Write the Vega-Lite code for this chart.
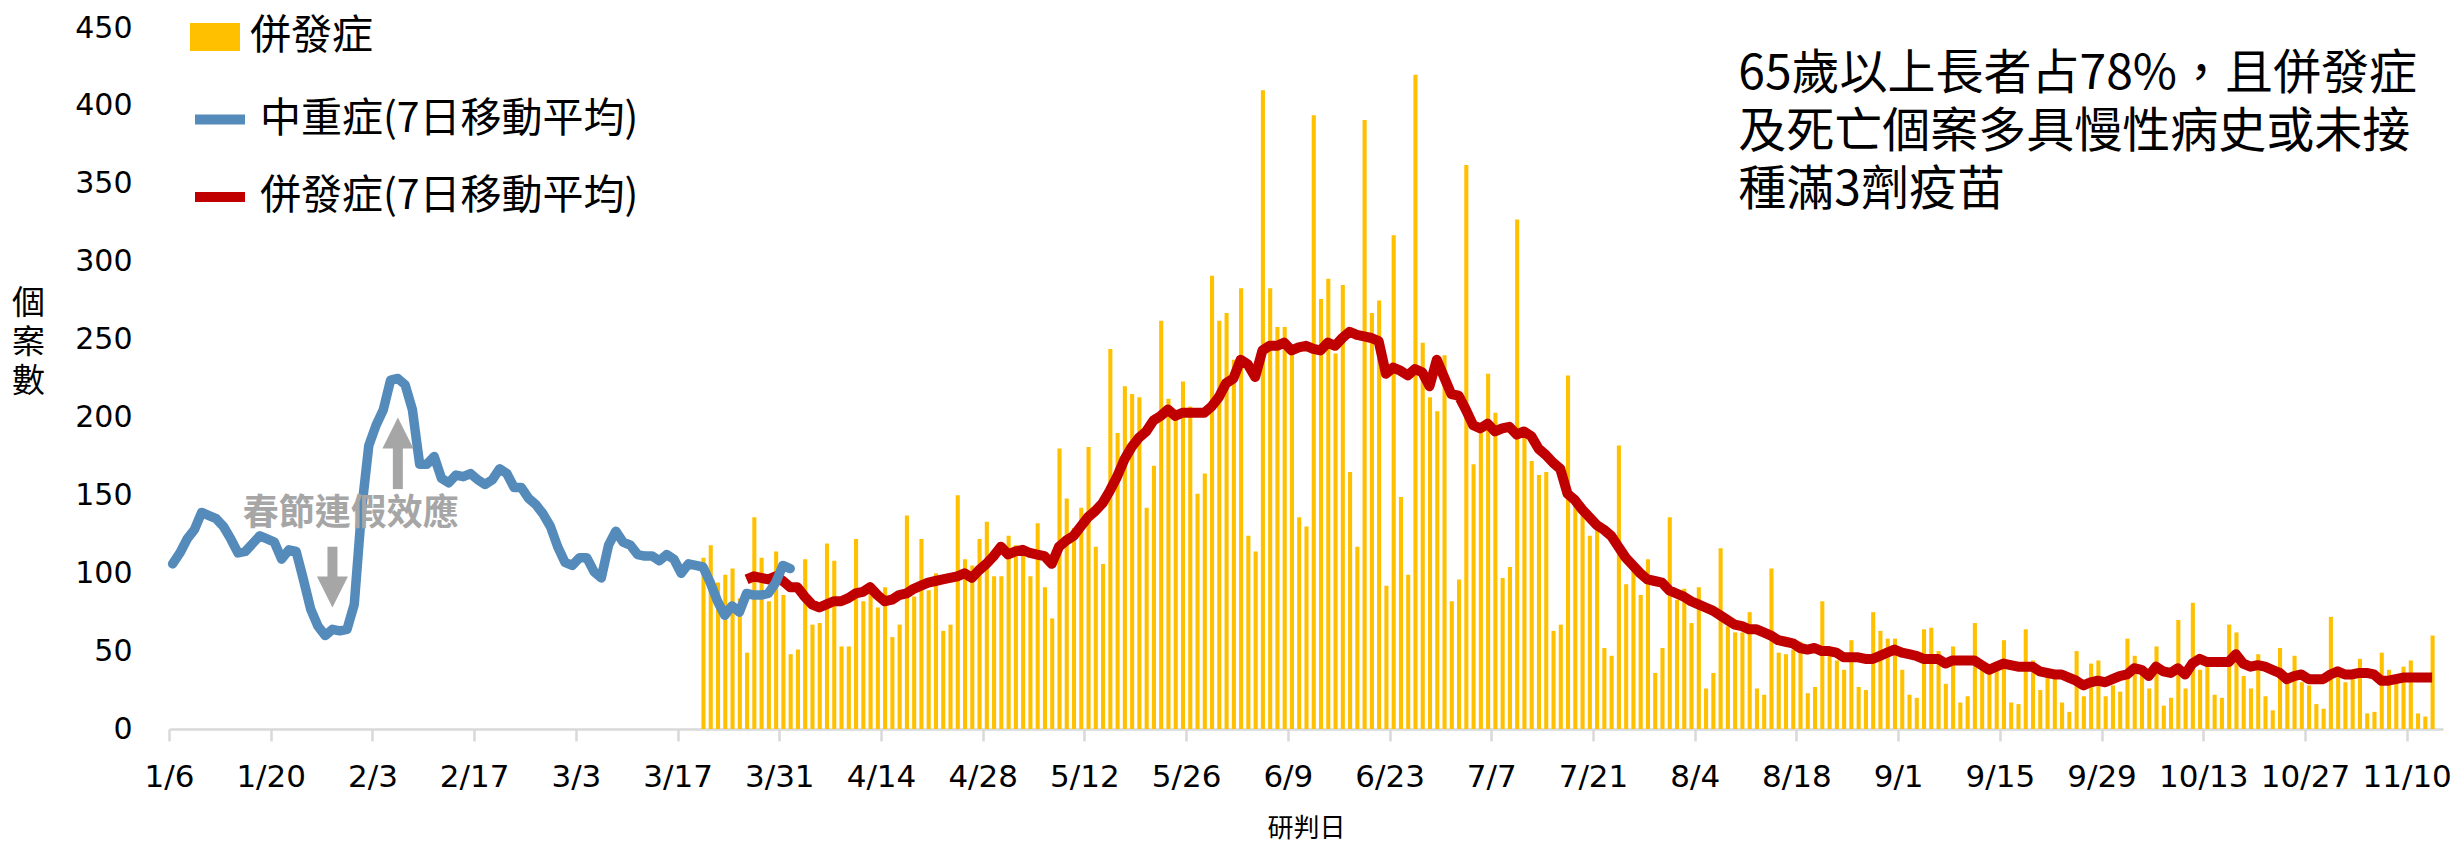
{
"$schema": "https://vega.github.io/schema/vega-lite/v6.json",
"width": 2274, "height": 701,
"autosize": {"type": "none"},
"padding": {"left": 169, "top": 28, "right": 20, "bottom": 117},
"background": "white",
"config": {"view": {"stroke": null}},
"datasets": {
"bars": [
{"d":"2023-03-20","v":110},{"d":"2023-03-21","v":118},{"d":"2023-03-22","v":94},{"d":"2023-03-23","v":99},{"d":"2023-03-24","v":103},{"d":"2023-03-25","v":84},{"d":"2023-03-26","v":49},{"d":"2023-03-27","v":136},{"d":"2023-03-28","v":110},{"d":"2023-03-29","v":82},{"d":"2023-03-30","v":114},{"d":"2023-03-31","v":86},
{"d":"2023-04-01","v":48},{"d":"2023-04-02","v":51},{"d":"2023-04-03","v":109},{"d":"2023-04-04","v":67},{"d":"2023-04-05","v":68},{"d":"2023-04-06","v":119},{"d":"2023-04-07","v":108},{"d":"2023-04-08","v":53},{"d":"2023-04-09","v":53},{"d":"2023-04-10","v":122},{"d":"2023-04-11","v":82},{"d":"2023-04-12","v":93},{"d":"2023-04-13","v":78},{"d":"2023-04-14","v":91},{"d":"2023-04-15","v":59},{"d":"2023-04-16","v":67},{"d":"2023-04-17","v":137},{"d":"2023-04-18","v":85},{"d":"2023-04-19","v":122},{"d":"2023-04-20","v":89},{"d":"2023-04-21","v":100},{"d":"2023-04-22","v":63},{"d":"2023-04-23","v":67},{"d":"2023-04-24","v":150},{"d":"2023-04-25","v":109},{"d":"2023-04-26","v":105},{"d":"2023-04-27","v":122},{"d":"2023-04-28","v":133},{"d":"2023-04-29","v":98},{"d":"2023-04-30","v":98},
{"d":"2023-05-01","v":124},{"d":"2023-05-02","v":118},{"d":"2023-05-03","v":117},{"d":"2023-05-04","v":98},{"d":"2023-05-05","v":132},{"d":"2023-05-06","v":91},{"d":"2023-05-07","v":71},{"d":"2023-05-08","v":180},{"d":"2023-05-09","v":148},{"d":"2023-05-10","v":129},{"d":"2023-05-11","v":142},{"d":"2023-05-12","v":181},{"d":"2023-05-13","v":117},{"d":"2023-05-14","v":106},{"d":"2023-05-15","v":244},{"d":"2023-05-16","v":190},{"d":"2023-05-17","v":220},{"d":"2023-05-18","v":215},{"d":"2023-05-19","v":213},{"d":"2023-05-20","v":142},{"d":"2023-05-21","v":169},{"d":"2023-05-22","v":262},{"d":"2023-05-23","v":212},{"d":"2023-05-24","v":200},{"d":"2023-05-25","v":223},{"d":"2023-05-26","v":207},{"d":"2023-05-27","v":151},{"d":"2023-05-28","v":164},{"d":"2023-05-29","v":291},{"d":"2023-05-30","v":262},{"d":"2023-05-31","v":267},
{"d":"2023-06-01","v":237},{"d":"2023-06-02","v":283},{"d":"2023-06-03","v":124},{"d":"2023-06-04","v":114},{"d":"2023-06-05","v":410},{"d":"2023-06-06","v":283},{"d":"2023-06-07","v":258},{"d":"2023-06-08","v":258},{"d":"2023-06-09","v":245},{"d":"2023-06-10","v":136},{"d":"2023-06-11","v":130},{"d":"2023-06-12","v":394},{"d":"2023-06-13","v":276},{"d":"2023-06-14","v":289},{"d":"2023-06-15","v":241},{"d":"2023-06-16","v":285},{"d":"2023-06-17","v":165},{"d":"2023-06-18","v":117},{"d":"2023-06-19","v":391},{"d":"2023-06-20","v":267},{"d":"2023-06-21","v":275},{"d":"2023-06-22","v":92},{"d":"2023-06-23","v":317},{"d":"2023-06-24","v":149},{"d":"2023-06-25","v":99},{"d":"2023-06-26","v":420},{"d":"2023-06-27","v":248},{"d":"2023-06-28","v":213},{"d":"2023-06-29","v":204},{"d":"2023-06-30","v":240},
{"d":"2023-07-01","v":82},{"d":"2023-07-02","v":96},{"d":"2023-07-03","v":362},{"d":"2023-07-04","v":170},{"d":"2023-07-05","v":190},{"d":"2023-07-06","v":228},{"d":"2023-07-07","v":203},{"d":"2023-07-08","v":97},{"d":"2023-07-09","v":104},{"d":"2023-07-10","v":327},{"d":"2023-07-11","v":190},{"d":"2023-07-12","v":172},{"d":"2023-07-13","v":163},{"d":"2023-07-14","v":165},{"d":"2023-07-15","v":63},{"d":"2023-07-16","v":67},{"d":"2023-07-17","v":227},{"d":"2023-07-18","v":150},{"d":"2023-07-19","v":138},{"d":"2023-07-20","v":124},{"d":"2023-07-21","v":128},{"d":"2023-07-22","v":52},{"d":"2023-07-23","v":47},{"d":"2023-07-24","v":182},{"d":"2023-07-25","v":93},{"d":"2023-07-26","v":103},{"d":"2023-07-27","v":86},{"d":"2023-07-28","v":109},{"d":"2023-07-29","v":36},{"d":"2023-07-30","v":52},{"d":"2023-07-31","v":136},
{"d":"2023-08-01","v":83},{"d":"2023-08-02","v":90},{"d":"2023-08-03","v":68},{"d":"2023-08-04","v":91},{"d":"2023-08-05","v":26},{"d":"2023-08-06","v":36},{"d":"2023-08-07","v":116},{"d":"2023-08-08","v":66},{"d":"2023-08-09","v":62},{"d":"2023-08-10","v":62},{"d":"2023-08-11","v":75},{"d":"2023-08-12","v":26},{"d":"2023-08-13","v":22},{"d":"2023-08-14","v":103},{"d":"2023-08-15","v":49},{"d":"2023-08-16","v":48},{"d":"2023-08-17","v":51},{"d":"2023-08-18","v":56},{"d":"2023-08-19","v":23},{"d":"2023-08-20","v":27},{"d":"2023-08-21","v":82},{"d":"2023-08-22","v":47},{"d":"2023-08-23","v":44},{"d":"2023-08-24","v":38},{"d":"2023-08-25","v":57},{"d":"2023-08-26","v":27},{"d":"2023-08-27","v":25},{"d":"2023-08-28","v":75},{"d":"2023-08-29","v":63},{"d":"2023-08-30","v":58},{"d":"2023-08-31","v":58},
{"d":"2023-09-01","v":38},{"d":"2023-09-02","v":22},{"d":"2023-09-03","v":20},{"d":"2023-09-04","v":64},{"d":"2023-09-05","v":65},{"d":"2023-09-06","v":50},{"d":"2023-09-07","v":29},{"d":"2023-09-08","v":53},{"d":"2023-09-09","v":17},{"d":"2023-09-10","v":21},{"d":"2023-09-11","v":68},{"d":"2023-09-12","v":40},{"d":"2023-09-13","v":37},{"d":"2023-09-14","v":38},{"d":"2023-09-15","v":57},{"d":"2023-09-16","v":17},{"d":"2023-09-17","v":16},{"d":"2023-09-18","v":64},{"d":"2023-09-19","v":44},{"d":"2023-09-20","v":25},{"d":"2023-09-21","v":35},{"d":"2023-09-22","v":33},{"d":"2023-09-23","v":17},{"d":"2023-09-24","v":11},{"d":"2023-09-25","v":50},{"d":"2023-09-26","v":21},{"d":"2023-09-27","v":42},{"d":"2023-09-28","v":44},{"d":"2023-09-29","v":21},{"d":"2023-09-30","v":28},
{"d":"2023-10-01","v":24},{"d":"2023-10-02","v":58},{"d":"2023-10-03","v":47},{"d":"2023-10-04","v":35},{"d":"2023-10-05","v":26},{"d":"2023-10-06","v":53},{"d":"2023-10-07","v":15},{"d":"2023-10-08","v":20},{"d":"2023-10-09","v":70},{"d":"2023-10-10","v":26},{"d":"2023-10-11","v":81},{"d":"2023-10-12","v":38},{"d":"2023-10-13","v":41},{"d":"2023-10-14","v":22},{"d":"2023-10-15","v":20},{"d":"2023-10-16","v":67},{"d":"2023-10-17","v":62},{"d":"2023-10-18","v":34},{"d":"2023-10-19","v":26},{"d":"2023-10-20","v":48},{"d":"2023-10-21","v":21},{"d":"2023-10-22","v":12},{"d":"2023-10-23","v":52},{"d":"2023-10-24","v":33},{"d":"2023-10-25","v":47},{"d":"2023-10-26","v":30},{"d":"2023-10-27","v":28},{"d":"2023-10-28","v":16},{"d":"2023-10-29","v":13},{"d":"2023-10-30","v":72},{"d":"2023-10-31","v":34},
{"d":"2023-11-01","v":30},{"d":"2023-11-02","v":32},{"d":"2023-11-03","v":45},{"d":"2023-11-04","v":10},{"d":"2023-11-05","v":11},{"d":"2023-11-06","v":49},{"d":"2023-11-07","v":38},{"d":"2023-11-08","v":30},{"d":"2023-11-09","v":40},{"d":"2023-11-10","v":44},{"d":"2023-11-11","v":10},{"d":"2023-11-12","v":8},{"d":"2023-11-13","v":60}
],
"blue": [
{"d":"2023-01-06","v":106},{"d":"2023-01-07","v":113},{"d":"2023-01-08","v":122},{"d":"2023-01-09","v":128},{"d":"2023-01-10","v":139},{"d":"2023-01-11","v":137},{"d":"2023-01-12","v":135},{"d":"2023-01-13","v":130},{"d":"2023-01-14","v":122},{"d":"2023-01-15","v":113},{"d":"2023-01-16","v":114},{"d":"2023-01-17","v":119},{"d":"2023-01-18","v":124},{"d":"2023-01-19","v":122},{"d":"2023-01-20","v":120},{"d":"2023-01-21","v":109},{"d":"2023-01-22","v":115},{"d":"2023-01-23","v":114},{"d":"2023-01-24","v":96},{"d":"2023-01-25","v":77},{"d":"2023-01-26","v":66},{"d":"2023-01-27","v":60},{"d":"2023-01-28","v":64},{"d":"2023-01-29","v":63},{"d":"2023-01-30","v":64},{"d":"2023-01-31","v":80},
{"d":"2023-02-01","v":140},{"d":"2023-02-02","v":182},{"d":"2023-02-03","v":195},{"d":"2023-02-04","v":205},{"d":"2023-02-05","v":224},{"d":"2023-02-06","v":225},{"d":"2023-02-07","v":221},{"d":"2023-02-08","v":205},{"d":"2023-02-09","v":170},{"d":"2023-02-10","v":170},{"d":"2023-02-11","v":175},{"d":"2023-02-12","v":161},{"d":"2023-02-13","v":158},{"d":"2023-02-14","v":163},{"d":"2023-02-15","v":162},{"d":"2023-02-16","v":164},{"d":"2023-02-17","v":160},{"d":"2023-02-18","v":157},{"d":"2023-02-19","v":160},{"d":"2023-02-20","v":167},{"d":"2023-02-21","v":164},{"d":"2023-02-22","v":155},{"d":"2023-02-23","v":155},{"d":"2023-02-24","v":148},{"d":"2023-02-25","v":144},{"d":"2023-02-26","v":138},{"d":"2023-02-27","v":130},{"d":"2023-02-28","v":117},
{"d":"2023-03-01","v":107},{"d":"2023-03-02","v":105},{"d":"2023-03-03","v":110},{"d":"2023-03-04","v":110},{"d":"2023-03-05","v":101},{"d":"2023-03-06","v":97},{"d":"2023-03-07","v":118},{"d":"2023-03-08","v":127},{"d":"2023-03-09","v":120},{"d":"2023-03-10","v":118},{"d":"2023-03-11","v":112},{"d":"2023-03-12","v":111},{"d":"2023-03-13","v":111},{"d":"2023-03-14","v":108},{"d":"2023-03-15","v":112},{"d":"2023-03-16","v":109},{"d":"2023-03-17","v":100},{"d":"2023-03-18","v":106},{"d":"2023-03-19","v":105},{"d":"2023-03-20","v":104},{"d":"2023-03-21","v":94},{"d":"2023-03-22","v":82},{"d":"2023-03-23","v":73},{"d":"2023-03-24","v":79},{"d":"2023-03-25","v":75},{"d":"2023-03-26","v":87},{"d":"2023-03-27","v":86},{"d":"2023-03-28","v":86},{"d":"2023-03-29","v":87},{"d":"2023-03-30","v":94},{"d":"2023-03-31","v":105},{"d":"2023-04-01","v":103}
],
"red": [
{"d":"2023-03-26","v":96},{"d":"2023-03-27","v":98},{"d":"2023-03-28","v":97},{"d":"2023-03-29","v":96},{"d":"2023-03-30","v":98},{"d":"2023-03-31","v":95},
{"d":"2023-04-01","v":91},{"d":"2023-04-02","v":91},{"d":"2023-04-03","v":85},{"d":"2023-04-04","v":80},{"d":"2023-04-05","v":78},{"d":"2023-04-06","v":80},{"d":"2023-04-07","v":82},{"d":"2023-04-08","v":82},{"d":"2023-04-09","v":84},{"d":"2023-04-10","v":87},{"d":"2023-04-11","v":88},{"d":"2023-04-12","v":91},{"d":"2023-04-13","v":86},{"d":"2023-04-14","v":82},{"d":"2023-04-15","v":83},{"d":"2023-04-16","v":86},{"d":"2023-04-17","v":87},{"d":"2023-04-18","v":90},{"d":"2023-04-19","v":92},{"d":"2023-04-20","v":94},{"d":"2023-04-21","v":95},{"d":"2023-04-22","v":96},{"d":"2023-04-23","v":97},{"d":"2023-04-24","v":98},{"d":"2023-04-25","v":100},{"d":"2023-04-26","v":97},{"d":"2023-04-27","v":102},{"d":"2023-04-28","v":106},{"d":"2023-04-29","v":111},{"d":"2023-04-30","v":117},
{"d":"2023-05-01","v":112},{"d":"2023-05-02","v":114},{"d":"2023-05-03","v":115},{"d":"2023-05-04","v":113},{"d":"2023-05-05","v":112},{"d":"2023-05-06","v":111},{"d":"2023-05-07","v":106},{"d":"2023-05-08","v":117},{"d":"2023-05-09","v":121},{"d":"2023-05-10","v":124},{"d":"2023-05-11","v":130},{"d":"2023-05-12","v":136},{"d":"2023-05-13","v":140},{"d":"2023-05-14","v":145},{"d":"2023-05-15","v":153},{"d":"2023-05-16","v":162},{"d":"2023-05-17","v":173},{"d":"2023-05-18","v":181},{"d":"2023-05-19","v":187},{"d":"2023-05-20","v":191},{"d":"2023-05-21","v":198},{"d":"2023-05-22","v":201},{"d":"2023-05-23","v":205},{"d":"2023-05-24","v":201},{"d":"2023-05-25","v":203},{"d":"2023-05-26","v":203},{"d":"2023-05-27","v":203},{"d":"2023-05-28","v":203},{"d":"2023-05-29","v":207},{"d":"2023-05-30","v":213},{"d":"2023-05-31","v":222},
{"d":"2023-06-01","v":225},{"d":"2023-06-02","v":237},{"d":"2023-06-03","v":234},{"d":"2023-06-04","v":226},{"d":"2023-06-05","v":243},{"d":"2023-06-06","v":246},{"d":"2023-06-07","v":246},{"d":"2023-06-08","v":248},{"d":"2023-06-09","v":243},{"d":"2023-06-10","v":245},{"d":"2023-06-11","v":246},{"d":"2023-06-12","v":244},{"d":"2023-06-13","v":243},{"d":"2023-06-14","v":248},{"d":"2023-06-15","v":246},{"d":"2023-06-16","v":251},{"d":"2023-06-17","v":255},{"d":"2023-06-18","v":253},{"d":"2023-06-19","v":252},{"d":"2023-06-20","v":251},{"d":"2023-06-21","v":249},{"d":"2023-06-22","v":228},{"d":"2023-06-23","v":232},{"d":"2023-06-24","v":230},{"d":"2023-06-25","v":227},{"d":"2023-06-26","v":231},{"d":"2023-06-27","v":229},{"d":"2023-06-28","v":220},{"d":"2023-06-29","v":237},{"d":"2023-06-30","v":226},
{"d":"2023-07-01","v":215},{"d":"2023-07-02","v":214},{"d":"2023-07-03","v":205},{"d":"2023-07-04","v":195},{"d":"2023-07-05","v":193},{"d":"2023-07-06","v":196},{"d":"2023-07-07","v":191},{"d":"2023-07-08","v":193},{"d":"2023-07-09","v":194},{"d":"2023-07-10","v":189},{"d":"2023-07-11","v":191},{"d":"2023-07-12","v":188},{"d":"2023-07-13","v":180},{"d":"2023-07-14","v":176},{"d":"2023-07-15","v":171},{"d":"2023-07-16","v":167},{"d":"2023-07-17","v":151},{"d":"2023-07-18","v":147},{"d":"2023-07-19","v":141},{"d":"2023-07-20","v":136},{"d":"2023-07-21","v":131},{"d":"2023-07-22","v":128},{"d":"2023-07-23","v":124},{"d":"2023-07-24","v":117},{"d":"2023-07-25","v":110},{"d":"2023-07-26","v":105},{"d":"2023-07-27","v":100},{"d":"2023-07-28","v":96},{"d":"2023-07-29","v":95},{"d":"2023-07-30","v":94},{"d":"2023-07-31","v":89},
{"d":"2023-08-01","v":87},{"d":"2023-08-02","v":85},{"d":"2023-08-03","v":82},{"d":"2023-08-04","v":80},{"d":"2023-08-05","v":78},{"d":"2023-08-06","v":76},{"d":"2023-08-07","v":73},{"d":"2023-08-08","v":70},{"d":"2023-08-09","v":67},{"d":"2023-08-10","v":66},{"d":"2023-08-11","v":64},{"d":"2023-08-12","v":64},{"d":"2023-08-13","v":62},{"d":"2023-08-14","v":60},{"d":"2023-08-15","v":57},{"d":"2023-08-16","v":56},{"d":"2023-08-17","v":55},{"d":"2023-08-18","v":52},{"d":"2023-08-19","v":51},{"d":"2023-08-20","v":52},{"d":"2023-08-21","v":50},{"d":"2023-08-22","v":50},{"d":"2023-08-23","v":49},{"d":"2023-08-24","v":46},{"d":"2023-08-25","v":46},{"d":"2023-08-26","v":46},{"d":"2023-08-27","v":45},{"d":"2023-08-28","v":45},{"d":"2023-08-29","v":47},{"d":"2023-08-30","v":49},{"d":"2023-08-31","v":51},
{"d":"2023-09-01","v":49},{"d":"2023-09-02","v":48},{"d":"2023-09-03","v":47},{"d":"2023-09-04","v":45},{"d":"2023-09-05","v":45},{"d":"2023-09-06","v":45},{"d":"2023-09-07","v":42},{"d":"2023-09-08","v":44},{"d":"2023-09-09","v":44},{"d":"2023-09-10","v":44},{"d":"2023-09-11","v":44},{"d":"2023-09-12","v":41},{"d":"2023-09-13","v":38},{"d":"2023-09-14","v":40},{"d":"2023-09-15","v":42},{"d":"2023-09-16","v":41},{"d":"2023-09-17","v":40},{"d":"2023-09-18","v":40},{"d":"2023-09-19","v":40},{"d":"2023-09-20","v":37},{"d":"2023-09-21","v":36},{"d":"2023-09-22","v":35},{"d":"2023-09-23","v":35},{"d":"2023-09-24","v":33},{"d":"2023-09-25","v":31},{"d":"2023-09-26","v":28},{"d":"2023-09-27","v":30},{"d":"2023-09-28","v":31},{"d":"2023-09-29","v":30},{"d":"2023-09-30","v":32},
{"d":"2023-10-01","v":34},{"d":"2023-10-02","v":35},{"d":"2023-10-03","v":39},{"d":"2023-10-04","v":38},{"d":"2023-10-05","v":34},{"d":"2023-10-06","v":40},{"d":"2023-10-07","v":37},{"d":"2023-10-08","v":36},{"d":"2023-10-09","v":39},{"d":"2023-10-10","v":35},{"d":"2023-10-11","v":42},{"d":"2023-10-12","v":45},{"d":"2023-10-13","v":43},{"d":"2023-10-14","v":43},{"d":"2023-10-15","v":43},{"d":"2023-10-16","v":43},{"d":"2023-10-17","v":48},{"d":"2023-10-18","v":42},{"d":"2023-10-19","v":40},{"d":"2023-10-20","v":41},{"d":"2023-10-21","v":40},{"d":"2023-10-22","v":38},{"d":"2023-10-23","v":36},{"d":"2023-10-24","v":32},{"d":"2023-10-25","v":34},{"d":"2023-10-26","v":35},{"d":"2023-10-27","v":32},{"d":"2023-10-28","v":32},{"d":"2023-10-29","v":32},{"d":"2023-10-30","v":35},{"d":"2023-10-31","v":37},
{"d":"2023-11-01","v":35},{"d":"2023-11-02","v":35},{"d":"2023-11-03","v":36},{"d":"2023-11-04","v":36},{"d":"2023-11-05","v":35},{"d":"2023-11-06","v":31},{"d":"2023-11-07","v":31},{"d":"2023-11-08","v":32},{"d":"2023-11-09","v":33},{"d":"2023-11-10","v":33},{"d":"2023-11-11","v":33},{"d":"2023-11-12","v":33},{"d":"2023-11-13","v":33}
]
},
"layer": [
{
"data": {"name": "bars"},
"mark": {"type": "bar", "width": {"band": 0.7}},
"encoding": {
"x": {"field": "d", "type": "temporal", "timeUnit": "utcyearmonthdate",
"scale": {"type": "utc", "domain": [{"year": 2023, "month": 1, "date": 6, "utc": true}, {"year": 2023, "month": 11, "date": 15, "utc": true}]},
"axis": {
"values": [
{"year":2023,"month":1,"date":6,"utc":true},{"year":2023,"month":1,"date":20,"utc":true},{"year":2023,"month":2,"date":3,"utc":true},{"year":2023,"month":2,"date":17,"utc":true},{"year":2023,"month":3,"date":3,"utc":true},{"year":2023,"month":3,"date":17,"utc":true},{"year":2023,"month":3,"date":31,"utc":true},{"year":2023,"month":4,"date":14,"utc":true},{"year":2023,"month":4,"date":28,"utc":true},{"year":2023,"month":5,"date":12,"utc":true},{"year":2023,"month":5,"date":26,"utc":true},{"year":2023,"month":6,"date":9,"utc":true},{"year":2023,"month":6,"date":23,"utc":true},{"year":2023,"month":7,"date":7,"utc":true},{"year":2023,"month":7,"date":21,"utc":true},{"year":2023,"month":8,"date":4,"utc":true},{"year":2023,"month":8,"date":18,"utc":true},{"year":2023,"month":9,"date":1,"utc":true},{"year":2023,"month":9,"date":15,"utc":true},{"year":2023,"month":9,"date":29,"utc":true},{"year":2023,"month":10,"date":13,"utc":true},{"year":2023,"month":10,"date":27,"utc":true},{"year":2023,"month":11,"date":10,"utc":true}
],
"labelExpr": "utcFormat(datum.value, '%-m/%-d')",
"labelFont": "DejaVu Sans", "labelFontSize": 31, "labelColor": "#000000",
"labelOverlap": false, "labelFlush": false, "labelBaseline": "middle", "labelPadding": 36,
"tickColor": "#D9D9D9", "tickWidth": 2.5, "tickSize": 12,
"domainColor": "#D9D9D9", "domainWidth": 2.5, "grid": false,
"title": "研判日", "titleFont": "Noto Sans CJK TC", "titleFontSize": 26, "titleFontWeight": "normal", "titleColor": "#000000",
"titleY": 99, "titleBaseline": "middle"
}
},
"y": {"field": "v", "type": "quantitative",
"scale": {"domain": [0, 450], "nice": false},
"axis": {
"values": [0, 50, 100, 150, 200, 250, 300, 350, 400, 450],
"domain": false, "ticks": false, "tickSize": 0, "grid": false,
"labelFont": "DejaVu Sans", "labelFontSize": 30, "labelColor": "#000000", "labelPadding": 37, "labelBaseline": "middle",
"title": ["個", "案", "數"], "titleAngle": 0, "titleFont": "Noto Sans CJK TC", "titleFontSize": 33, "titleFontWeight": "normal", "titleColor": "#000000",
"titleLineHeight": 39, "titleX": -141, "titleY": 275, "titleAlign": "center", "titleBaseline": "middle"
}
},
"fill": {"datum": "併發症", "type": "nominal",
"scale": {"range": ["#FFC000"]},
"legend": {"orient": "none", "legendX": 21, "legendY": -16, "title": null, "padding": 0,
"symbolType": "M-1,-0.56H1V0.56H-1Z", "symbolSize": 2500, "symbolStrokeWidth": 0,
"labelFont": "Noto Sans CJK TC", "labelFontSize": 41, "labelColor": "#000000", "labelOffset": 10, "labelLimit": 1000}
}
}
},
{
"data": {"name": "red"},
"mark": {"type": "line", "strokeWidth": 10, "strokeJoin": "round"},
"encoding": {
"x": {"field": "d", "type": "temporal", "timeUnit": "utcyearmonthdate", "bandPosition": 0.5},
"y": {"field": "v", "type": "quantitative"},
"stroke": {"datum": "併發症(7日移動平均)", "type": "nominal",
"scale": {"domain": ["中重症(7日移動平均)", "併發症(7日移動平均)"], "range": ["#558BBA", "#C00000"]},
"legend": {"orient": "none", "legendX": 21, "legendY": 61.5, "title": null, "padding": 0, "direction": "vertical",
"symbolType": "stroke", "symbolSize": 2500, "symbolStrokeWidth": 10, "rowPadding": 27.5,
"labelFont": "Noto Sans CJK TC", "labelFontSize": 41, "labelColor": "#000000", "labelOffset": 10, "labelLimit": 1000}
}
}
},
{
"data": {"name": "blue"},
"mark": {"type": "line", "strokeWidth": 9.5, "strokeJoin": "round", "strokeCap": "round"},
"encoding": {
"x": {"field": "d", "type": "temporal", "timeUnit": "utcyearmonthdate", "bandPosition": 0.5},
"y": {"field": "v", "type": "quantitative"},
"stroke": {"datum": "中重症(7日移動平均)", "type": "nominal"}
}
},
{
"data": {"values": [{"d": "2023-01-28", "v": 117, "v2": 96}, {"d": "2023-02-06", "v": 154, "v2": 183}]},
"mark": {"type": "rule", "strokeWidth": 10, "color": "#A6A6A6"},
"encoding": {
"x": {"field": "d", "type": "temporal", "timeUnit": "utcyearmonthdate", "bandPosition": 0.5},
"y": {"field": "v", "type": "quantitative"},
"y2": {"field": "v2"}
}
},
{
"data": {"values": [{"d": "2023-01-28", "v": 88}]},
"mark": {"type": "point", "shape": "M-1,-1H1L0,1Z", "size": 961, "filled": true, "color": "#A6A6A6", "opacity": 1, "strokeWidth": 0},
"encoding": {
"x": {"field": "d", "type": "temporal", "timeUnit": "utcyearmonthdate", "bandPosition": 0.5},
"y": {"field": "v", "type": "quantitative"}
}
},
{
"data": {"values": [{"d": "2023-02-06", "v": 190}]},
"mark": {"type": "point", "shape": "M-1,1H1L0,-1Z", "size": 961, "filled": true, "color": "#A6A6A6", "opacity": 1, "strokeWidth": 0},
"encoding": {
"x": {"field": "d", "type": "temporal", "timeUnit": "utcyearmonthdate", "bandPosition": 0.5},
"y": {"field": "v", "type": "quantitative"}
}
},
{
"data": {"values": [{"d": "2023-01-31", "v": 138, "t": "春節連假效應"}]},
"mark": {"type": "text", "font": "Noto Sans CJK TC", "fontSize": 36, "fontWeight": "bold", "color": "#A6A6A6", "align": "center", "baseline": "middle"},
"encoding": {
"x": {"field": "d", "type": "temporal", "timeUnit": "utcyearmonthdate", "bandPosition": 0},
"y": {"field": "v", "type": "quantitative"},
"text": {"field": "t"}
}
},
{
"data": {"values": [{"d": "2023-08-10", "v": 420}]},
"mark": {"type": "text", "font": "Noto Sans CJK TC", "fontSize": 48, "color": "#000000", "align": "left", "baseline": "middle", "lineHeight": 58,
"text": ["65歲以上長者占78%，且併發症", "及死亡個案多具慢性病史或未接", "種滿3劑疫苗"]},
"encoding": {
"x": {"field": "d", "type": "temporal", "timeUnit": "utcyearmonthdate", "bandPosition": 0},
"y": {"field": "v", "type": "quantitative"}
}
}
]
}
